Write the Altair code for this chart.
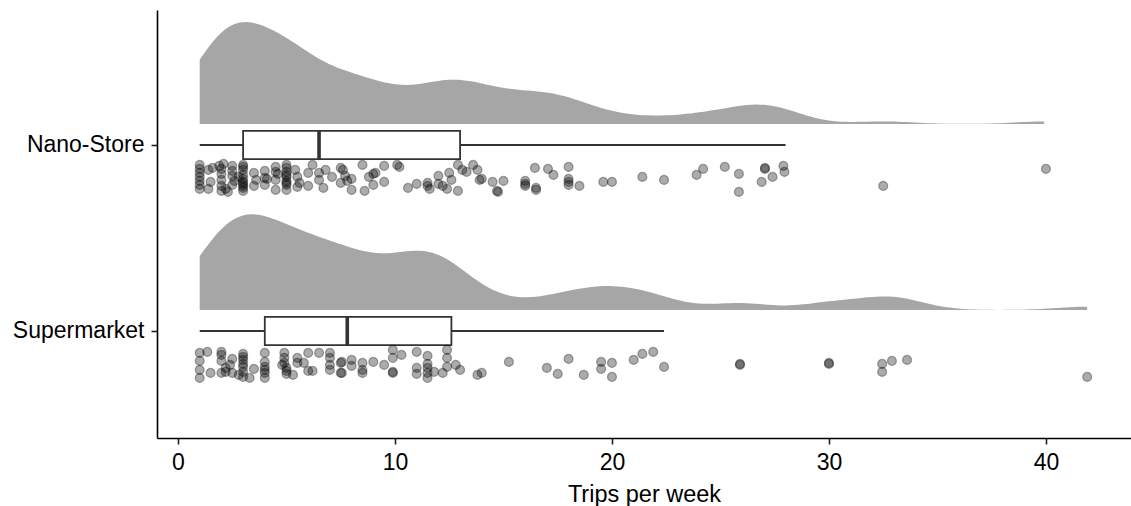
import altair as alt
import pandas as pd

# ---------------- data ----------------
categories = ["Nano-Store", "Supermarket"]
category_position = [2, 1]

nano_trips = [1.0, 1.0, 1.0, 1.0, 1.0, 1.0, 1.0, 1.4, 1.4, 1.5, 1.6, 1.9, 2.0, 2.0, 2.0, 2.0, 2.0,
              2.1, 2.2, 2.3, 2.5, 2.5, 2.5, 2.5, 2.6, 2.8, 3.0, 3.0, 3.0, 3.0, 3.0, 3.0, 3.0,
              3.0, 3.0, 3.0, 3.5, 3.5, 3.6, 4.0, 4.0, 4.0, 4.1,
              4.5, 4.5, 4.5, 4.5, 4.6, 5.0, 5.0, 5.0, 5.0, 5.0, 5.0, 5.0, 5.0, 5.0, 5.4, 5.5,
              5.5, 5.6, 6.0, 6.0,
              6.2, 6.5, 6.5, 6.7, 6.8, 7.1, 7.5, 7.5, 7.6, 7.7, 7.8, 8.0, 8.0, 8.5, 8.6, 8.8,
              9.0, 9.0, 9.1, 9.5, 9.5, 10.1, 10.2, 10.6, 11.0, 11.5, 11.5, 11.6, 12.0, 12.0,
              12.2, 12.4, 12.5, 12.6, 12.9, 12.9, 13.1, 13.3, 13.6, 13.8, 13.9, 14.0, 14.5,
              14.7, 14.75, 15.0, 16.0, 16.0, 16.0, 16.45, 16.5, 16.5, 17.05, 17.3, 18.0, 18.0,
              18.0, 18.0, 18.5, 19.6, 20.0, 21.4, 22.4, 23.9, 24.2, 25.2, 25.85, 25.85, 26.9,
              27.05, 27.05, 27.4, 27.9, 27.95, 32.5, 40.0]
nano_jitter = [-9, -5, -1, 3, 7, 11, -13, -8, 11, 4, -10, -12, -4, 2, 8, -9, 13,
               -14, 11, 14, -12, -2, 7, -7, 3, -1, -13, -8, -3, 1, 6, 10, 13,
               -11, 4, 8, -5, 8, 2, -7, 7, 0, 1,
               -11, 2, 12, -6, -4, -13, -10, -6, -1, 3, 7, 12, -3, 5, -8, -1,
               9, 5, -5, 8,
               -13, -5, 2, 10, -8, -1, -10, 5, -8, -2, 3, 1, 12, -13, 13, -1,
               -4, 7, -5, -12, 4, -13, -11, 10, 6, 5, 8, 11, 6, -2,
               8, 11, -5, 2, -13, 13, -8, -6, -13, -8, 2, 1, 4,
               13, 14, 3, 3, 6, 8, -10, 10, 12, -9, -3, -11, 1,
               4, 7, 8, 4, 4, -1, 2, -3, -9, -11, -4, 14, 4,
               -10, -9, -1, -12, -6, 8, -9]

super_trips = [1.0, 1.0, 1.0, 1.0, 1.35, 1.5, 2.0, 2.0, 2.0, 2.0, 2.2, 2.2, 2.4, 2.5, 2.5,
               2.8, 3.0, 3.0, 3.0, 3.0, 3.0, 3.0, 3.0, 3.3, 3.5, 4.0, 4.0, 4.0, 4.0, 4.0, 4.0,
               4.8, 4.9, 4.9, 4.9, 5.0, 5.0, 5.0, 5.5,
               5.3, 5.5, 5.8, 6.0, 6.0, 6.2, 6.5, 7.0, 7.0, 7.0, 7.0, 7.5, 7.5, 7.55, 7.55,
               8.0, 8.0, 8.5, 8.5, 8.5, 9.0, 9.5, 9.9, 9.9, 9.9, 9.9, 10.3, 11.0, 11.0, 11.0,
               11.5, 11.5, 11.5, 11.5, 11.5, 11.8, 12.2, 12.4, 12.4, 12.4, 12.8, 13.0, 13.8, 14.0,
               15.25, 17.0, 17.5, 18.0, 18.7, 19.5, 19.5, 20.0, 20.0, 21.0, 21.4, 21.9, 22.4,
               25.9, 25.9, 30.0, 30.0, 32.45, 32.45, 32.9, 33.6, 41.9]
super_jitter = [-11, -3, 6, 14, -12, 9, -12, -9, 9, -3, 8, 4, 1, 9, -5,
                11, -7, -4, 3, 8, 13, 0, -10, 14, 5, -11, -2, 6, 9, 14, 3,
                1, -11, -6, -1, 4, 10, 7, -6,
                11, -1, -1, -11, 7, 7, -11, -11, -6, 1, 6, 9, -1, -2, 9,
                -4, 2, -1, 6, 9, -2, 1, -14, -6, 8, 9, -9, -12, 4, 10,
                -8, 4, 9, 14, 0, 8, 9, -14, -6, 3, 1, 6, 11, 9,
                -2, 4, 10, -5, 11, -2, 5, -1, 13, -4, -10, -12, 3,
                0, 1, -1, 0, 0, 8, -3, -4, 13]

# box-plot summary
box_q1 = [3.0, 4.0]
box_median = [6.5, 7.8]
box_q3 = [13.0, 12.6]
box_lower = [1.0, 1.0]
box_upper = [28.0, 22.4]

# ---------------- tables ----------------
pos = dict(zip(categories, category_position))
rows = []
for g, trips, jit in [("Nano-Store", nano_trips, nano_jitter),
                      ("Supermarket", super_trips, super_jitter)]:
    for t, j in zip(trips, jit):
        rows.append({"group": g, "trips": t, "ypos": pos[g] - 0.177 - j / 186.0})
points_df = pd.DataFrame(rows)

box_df = pd.DataFrame({
    "group": categories,
    "cat": category_position,
    "q1": box_q1, "median": box_median, "q3": box_q3,
    "lower": box_lower, "upper": box_upper,
})
box_df["ylo"] = box_df["cat"] - 0.076
box_df["yhi"] = box_df["cat"] + 0.076

all_trips = nano_trips + super_trips
trip_extent = [min(all_trips), max(all_trips)]

# ---------------- scales / axes ----------------
FONT = "Liberation Sans"
x_scale = alt.Scale(domain=[-0.968, 43.92], nice=False, zero=False)
y_scale = alt.Scale(domain=[0.4247, 2.7258], nice=False, zero=False)

x_axis = alt.Axis(values=[0, 10, 20, 30, 40], title="Trips per week", grid=False,
                  tickSize=6, labelPadding=7, titleBaseline="alphabetic", titleY=63)
y_axis = alt.Axis(values=[1, 2], title=None, grid=False, tickSize=6, labelPadding=7,
                  labelExpr="datum.value == 2 ? 'Nano-Store' : 'Supermarket'")

# ---------------- layers ----------------
# half-violin: KDE per group, trimmed to each group's range, scaled by the global max ("area")
density = alt.Chart(points_df).transform_joinaggregate(
    gmin="min(trips)", gmax="max(trips)", groupby=["group"]
).transform_density(
    "trips", groupby=["group", "gmin", "gmax"], bandwidth=1.4,
    extent=trip_extent, steps=206, as_=["trips", "density"]
).transform_filter(
    "datum.trips >= datum.gmin - 1e-9 && datum.trips <= datum.gmax + 1e-9"
).transform_joinaggregate(
    maxd="max(density)"
).transform_calculate(
    base="(datum.group == 'Nano-Store' ? 2 : 1) + 0.113",
    top="(datum.group == 'Nano-Store' ? 2 : 1) + 0.113 + 0.548 * datum.density / datum.maxd",
).mark_area(color="#a6a6a6", opacity=1).encode(
    x=alt.X("trips:Q", scale=x_scale, axis=x_axis),
    y=alt.Y("base:Q", scale=y_scale, axis=y_axis),
    y2="top:Q",
    detail="group:N",
)

whisker = alt.Chart(box_df).mark_rule(color="#333333", strokeWidth=1.8).encode(
    x=alt.X("lower:Q", scale=x_scale), x2="upper:Q",
    y=alt.Y("cat:Q", scale=y_scale),
)
box = alt.Chart(box_df).mark_rect(fill="white", stroke="#333333", strokeWidth=1.8).encode(
    x=alt.X("q1:Q", scale=x_scale), x2="q3:Q",
    y=alt.Y("ylo:Q", scale=y_scale), y2="yhi:Q",
)
median = alt.Chart(box_df).mark_rule(color="#333333", strokeWidth=3.6).encode(
    x=alt.X("median:Q", scale=x_scale),
    y=alt.Y("ylo:Q", scale=y_scale), y2="yhi:Q",
)

points = alt.Chart(points_df).mark_circle(
    size=80, fill="black", fillOpacity=0.33, stroke="black", strokeOpacity=0.33, strokeWidth=1.2
).encode(
    x=alt.X("trips:Q", scale=x_scale),
    y=alt.Y("ypos:Q", scale=y_scale),
)

chart = alt.layer(density, whisker, box, median, points).properties(
    width=974, height=428,
    autosize=alt.AutoSizeParams(type="none"),
    padding={"left": 157, "top": 10, "right": 0, "bottom": 68},
    background="white",
).configure_view(stroke=None).configure_axis(
    labelFont=FONT, titleFont=FONT, labelFontSize=23, titleFontSize=23.5,
    labelColor="black", titleColor="black", titleFontWeight="normal",
    domainColor="black", domainWidth=1.6, tickColor="#222222", tickWidth=1.6,
)

chart.save("out.html", embed_options={"renderer": "svg", "actions": False})
